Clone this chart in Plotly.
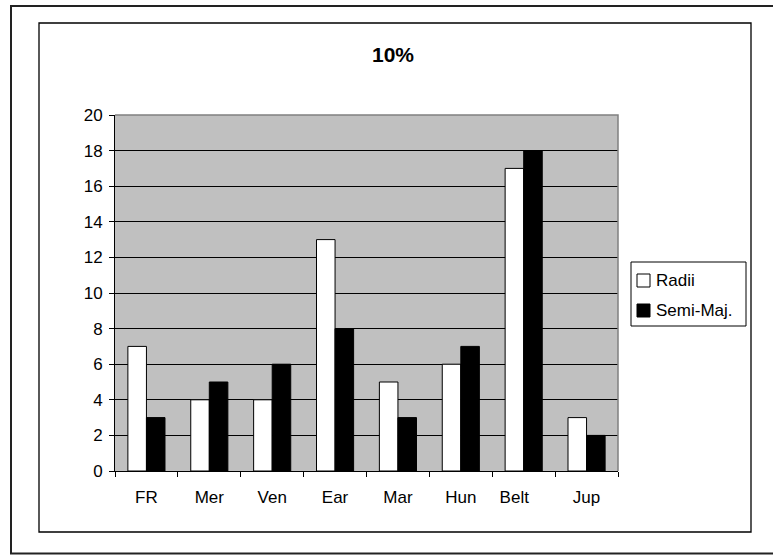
import plotly.graph_objects as go

# Chart data
categories = ["FR", "Mer", "Ven", "Ear", "Mar", "Hun", "Belt", "Jup"]
radii = [7, 4, 4, 13, 5, 6, 17, 3]
semi_major = [3, 5, 6, 8, 3, 7, 18, 2]
tick_labels = ["FR", "Mer", "Ven", "Ear", "Mar", "Hun", "Belt\u00a0\u00a0\u00a0\u00a0", "Jup"]
y_ticks = list(range(0, 21, 2))

W, H = 773, 555
L, R, T, B = 115, 618, 115, 471  # plot-area pixel box

def px(x):
    return (x - L) / (R - L)

def py(y):
    return (B - y) / (B - T)

FONT = "Arial, Liberation Sans, sans-serif"

fig = go.Figure()
fig.add_trace(go.Bar(x=categories, y=radii, name="Radii",
                     marker=dict(color="white", line=dict(color="black", width=1)),
                     showlegend=False))
fig.add_trace(go.Bar(x=categories, y=semi_major, name="Semi-Maj.",
                     marker=dict(color="black", line=dict(color="black", width=1)),
                     showlegend=False))

shapes = [
    # outer frame
    dict(type="rect", xref="paper", yref="paper", x0=px(11), x1=px(790), y0=py(6), y1=py(553.5),
         line=dict(color="#222222", width=2), layer="below"),
    # chart frame
    dict(type="rect", xref="paper", yref="paper", x0=px(39), x1=px(751), y0=py(23), y1=py(532),
         line=dict(color="black", width=1.3), layer="below"),
    # plot-area top/right border
    dict(type="path", xref="paper", yref="paper",
         path=f"M {px(L)} {py(T)} L {px(R)} {py(T)} L {px(R)} {py(B)}",
         line=dict(color="#808080", width=1.5), layer="above"),
    # legend box
    dict(type="rect", xref="paper", yref="paper", x0=px(631), x1=px(746), y0=py(262), y1=py(326),
         line=dict(color="black", width=1), fillcolor="white", layer="above"),
    # legend swatches
    dict(type="rect", xref="paper", yref="paper", x0=px(637), x1=px(650), y0=py(274), y1=py(287),
         line=dict(color="black", width=1), fillcolor="white", layer="above"),
    dict(type="rect", xref="paper", yref="paper", x0=px(637), x1=px(650), y0=py(304), y1=py(317),
         line=dict(color="black", width=1), fillcolor="black", layer="above"),
]

annotations = [
    dict(xref="paper", yref="paper", x=px(654), y=py(280), text="Radii", showarrow=False,
         xanchor="left", yanchor="middle", font=dict(family=FONT, size=17, color="black")),
    dict(xref="paper", yref="paper", x=px(654), y=py(310), text="Semi-Maj.", showarrow=False,
         xanchor="left", yanchor="middle", font=dict(family=FONT, size=17, color="black")),
]

fig.update_layout(
    width=W, height=H,
    margin=dict(l=L, r=W - R, t=T, b=H - B, pad=0),
    paper_bgcolor="white",
    plot_bgcolor="#C0C0C0",
    barmode="group", bargap=0.41, bargroupgap=0,
    font=dict(family=FONT, size=17, color="black"),
    title=dict(text="<b>10%</b>", x=393 / W, y=1 - 55 / H, xanchor="center", yanchor="middle",
               font=dict(family=FONT, size=21, color="black")),
    shapes=shapes,
    annotations=annotations,
    showlegend=False,
)
fig.update_xaxes(
    tickmode="array", tickvals=categories, ticktext=tick_labels,
    showline=True, linecolor="black", linewidth=1,
    ticks="outside", tickson="boundaries", ticklen=5, tickcolor="black",
    ticklabelstandoff=11,
    showgrid=False, tickfont=dict(size=17),
)
fig.update_yaxes(
    range=[0, 20], tickvals=y_ticks,
    showline=True, linecolor="black", linewidth=1,
    ticks="outside", ticklen=5, tickcolor="black",
    ticklabelstandoff=3,
    showgrid=True, gridcolor="black", gridwidth=1,
    zeroline=True, zerolinecolor="black", zerolinewidth=1,
    tickfont=dict(size=17),
)

fig.write_html("out.html")
